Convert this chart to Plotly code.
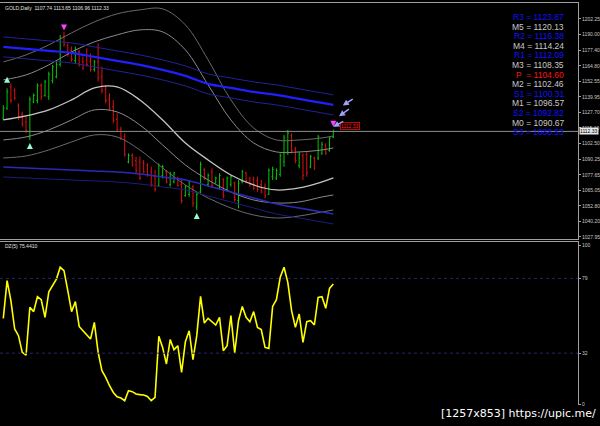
import plotly.graph_objects as go

# ---------------- data ----------------
bar_index = list(range(88))
opens = [1123, 1131, 1148, 1145, 1133, 1126, 1120, 1108, 1136, 1137,
         1149, 1141, 1140, 1153, 1156, 1166, 1188, 1181, 1177, 1169,
         1176, 1168, 1173, 1168, 1162, 1168, 1156, 1146, 1138, 1132,
         1122, 1114, 1108, 1088, 1093, 1089, 1088, 1087, 1085, 1080,
         1076, 1069, 1077, 1080, 1070, 1072, 1075, 1070, 1061, 1062,
         1068, 1052, 1064, 1082, 1070, 1080, 1071, 1067, 1074, 1066,
         1070, 1071, 1057, 1072, 1079, 1075, 1074, 1073, 1070, 1068,
         1062, 1076, 1075, 1078, 1088, 1096, 1109, 1098, 1085, 1093,
         1094, 1084, 1091, 1091, 1095, 1101, 1097, 1107.74]
highs = [1133.4, 1146.8, 1150.8, 1146.8, 1134.8, 1128.1, 1124.1, 1140.1, 1142.8, 1150.8,
         1150.8, 1153.5, 1160.1, 1165.4, 1168.1, 1189.4, 1192.1, 1182.8, 1180.1, 1180.1,
         1177.5, 1172.1, 1178.8, 1174.8, 1169.5, 1182.8, 1164.1, 1149.5, 1142.8, 1137.5,
         1126.8, 1116.1, 1110.8, 1094.8, 1094.8, 1092.1, 1092.1, 1089.5, 1086.8, 1084.1,
         1081.5, 1086.8, 1085.5, 1081.5, 1080.1, 1080.1, 1076.1, 1073.5, 1069.5, 1073.5,
         1069.5, 1064.1, 1088.1, 1082.8, 1078.8, 1082.8, 1076.1, 1078.8, 1074.8, 1076.1,
         1077.5, 1072.2, 1073.5, 1081.5, 1080.1, 1076.1, 1076.1, 1076.1, 1073.5, 1070.8,
         1082.8, 1084.1, 1082.8, 1094.8, 1109.5, 1113.5, 1110.8, 1100.1, 1096.1, 1094.8,
         1096.1, 1093.5, 1092.1, 1109.5, 1104.1, 1102.8, 1108.1, 1113.65]
lows = [1121.4, 1129.5, 1134.8, 1137.5, 1121.4, 1116.1, 1110.8, 1105.4, 1134.8, 1134.8,
        1137.5, 1140.1, 1137.5, 1150.8, 1154.8, 1164.1, 1180.1, 1172.1, 1168.1, 1166.8,
        1164.1, 1161.4, 1164.1, 1160.1, 1160.1, 1152.1, 1142.8, 1134.8, 1129.5, 1118.8,
        1112.1, 1105.4, 1092.1, 1086.8, 1084.1, 1078.8, 1073.5, 1078.8, 1076.1, 1068.1,
        1064.1, 1068.1, 1074.8, 1070.8, 1068.1, 1070.8, 1068.1, 1054.8, 1060.1, 1060.1,
        1052.1, 1049.5, 1062.8, 1073.5, 1068.1, 1066.8, 1070.8, 1065.5, 1058.8, 1065.5,
        1068.1, 1056.1, 1050.8, 1070.8, 1070.8, 1068.1, 1065.5, 1064.1, 1062.8, 1058.8,
        1061.5, 1073.5, 1073.5, 1076.1, 1084.1, 1093.5, 1094.8, 1086.8, 1082.8, 1073.5,
        1076.1, 1082.8, 1081.5, 1089.5, 1093.5, 1093.5, 1096.1, 1106.96]
closes = [1131, 1144, 1137, 1139, 1124, 1118, 1113, 1138, 1141, 1149,
          1140, 1152, 1158, 1164, 1166, 1187, 1182, 1174, 1170, 1178,
          1166, 1163, 1166, 1162, 1168, 1155, 1145, 1137, 1131, 1121,
          1114, 1107, 1094, 1093, 1086, 1081, 1075, 1080, 1078, 1070,
          1066, 1085, 1084, 1072, 1078, 1079, 1069, 1057, 1068, 1072,
          1055, 1062, 1086, 1075, 1077, 1069, 1075, 1077, 1061, 1075,
          1076, 1058, 1071, 1080, 1073, 1070, 1067, 1066, 1064, 1061,
          1081, 1082, 1081, 1093, 1107, 1111, 1097, 1089, 1094, 1077,
          1079, 1092, 1083, 1108, 1102, 1095, 1107, 1112.33]

osc = [53.9, 77.6, 65.0, 47.2, 43.0, 32.5, 30.8, 60.8, 58.1, 67.5,
       65.6, 54.5, 70.6, 74.8, 78.6, 86.0, 83.9, 71.3, 58.1, 64.4,
       48.8, 46.1, 43.4, 40.9, 51.4, 32.5, 21.0, 16.8, 11.5, 7.3,
       4.6, 3.8, 2.1, 8.4, 7.8, 6.3, 5.9, 5.7, 4.8, 2.1,
       4.2, 42.6, 35.6, 25.2, 40.5, 34.2, 36.7, 19.9, 39.2, 46.1,
       27.9, 43.0, 67.7, 50.9, 53.9, 51.8, 49.7, 54.5, 33.5, 36.7,
       55.6, 32.1, 52.4, 61.4, 54.5, 51.8, 58.1, 48.2, 46.8, 35.6,
       35.0, 61.4, 65.6, 79.7, 86.0, 76.5, 58.7, 48.2, 56.6, 38.8,
       51.8, 52.4, 49.7, 67.1, 67.5, 60.2, 72.7, 75.44]

# indicator lines, read at these bars
band_idx = [0, 6, 12, 18, 24, 30, 36, 42, 48, 54, 60, 66, 72, 78, 84, 87]
ma_thick = [1179.9, 1178.3, 1176.7, 1175.1, 1171.9, 1168.7, 1165.5, 1161.5,
            1156.7, 1150.3, 1147.1, 1143.9, 1141.5, 1138.3, 1135.1, 1133.5]
ma_upper = [1187.9, 1186.3, 1184.7, 1183.1, 1179.9, 1176.7, 1173.5, 1169.5,
            1164.7, 1158.3, 1155.1, 1151.9, 1149.5, 1146.3, 1143.1, 1141.5]
ma_lower = [1171.9, 1170.3, 1168.7, 1167.1, 1163.9, 1160.7, 1157.5, 1153.5,
            1148.7, 1142.3, 1139.1, 1135.9, 1133.5, 1130.3, 1127.1, 1125.5]
low_blue = [1083.9, 1083.1, 1082.3, 1081.5, 1080.7, 1079.9, 1078.3, 1075.9,
            1073.5, 1068.7, 1063.9, 1059.1, 1054.3, 1051.1, 1047.9, 1046.3]
low_blue2 = [1075.9, 1075.1, 1074.3, 1073.5, 1072.7, 1071.9, 1070.3, 1067.9,
             1065.5, 1060.7, 1055.9, 1051.1, 1046.3, 1043.1, 1039.9, 1038.3]
center_line = [1121.5, 1124.7, 1129.5, 1137.5, 1147.1, 1147.9, 1137.5, 1121.5,
               1103.1, 1089.5, 1077.5, 1069.5, 1065.5, 1067.1, 1071.9, 1075.1]
upper_in = [1153.5, 1157.5, 1165.5, 1175.9, 1183.9, 1189.5, 1193.5, 1191.9,
            1177.5, 1149.5, 1121.5, 1103.1, 1095.9, 1095.9, 1097.5, 1099.1]
upper_out = [1167.9, 1173.5, 1181.5, 1191.1, 1199.9, 1206.3, 1209.5, 1210.3,
             1197.5, 1169.5, 1137.5, 1115.1, 1105.5, 1105.5, 1107.1, 1108.7]
lower_in = [1105.5, 1107.9, 1113.5, 1121.5, 1129.5, 1127.9, 1117.5, 1101.5,
            1085.5, 1073.5, 1063.9, 1057.5, 1055.1, 1055.9, 1059.9, 1061.5]
lower_out = [1091.1, 1092.7, 1097.5, 1103.9, 1109.5, 1107.9, 1097.5, 1083.1,
             1069.5, 1059.1, 1051.1, 1045.5, 1043.1, 1044.7, 1047.9, 1049.5]

buy_idx = [1, 7, 51]
buy_price = [1156, 1103, 1047]
sell_idx = [16, 87]
sell_price = [1193, 1116]

price_ticks = [1202.25, 1190.00, 1177.40, 1164.80, 1152.55, 1139.95, 1127.70, 1115.10,
               1102.50, 1090.25, 1077.65, 1065.05, 1052.80, 1040.20, 1027.95]
osc_ticks = [100, 79, 32, 0]
osc_levels = [79, 32]

pivot_names = ["R3", "M5", "R2", "M4", "R1", "M3", "P ", "M2", "S1", "M1", "S2", "M0", "S3"]
pivot_values = [1123.87, 1120.13, 1116.38, 1114.24, 1112.09, 1108.35, 1104.60,
                1102.46, 1100.31, 1096.57, 1092.82, 1090.67, 1088.53]
pivot_colors = ["#1010ff", "#c8c8c8", "#1010ff", "#c8c8c8", "#1010ff", "#c8c8c8", "#ff1010",
                "#c8c8c8", "#1010ff", "#c8c8c8", "#1010ff", "#c8c8c8", "#1010ff"]

title_text = "GOLD,Daily  1107.74 1113.65 1106.96 1112.33"
osc_title = "DZ(5) 75.4410"
last_price = 1112.33

# ---------------- figure ----------------
W, H = 600, 426
fig = go.Figure()

line_specs = [
    (upper_out, "#6a6a6a", 1), (upper_in, "#8a8a8a", 1), (center_line, "#c4c4c4", 1.3),
    (lower_in, "#8a8a8a", 1), (lower_out, "#6a6a6a", 1),
    (ma_upper, "#22229a", 1), (ma_lower, "#22229a", 1), (ma_thick, "#2020ff", 2.2),
    (low_blue, "#2a2ab8", 1.6), (low_blue2, "#1c1c80", 1),
]
for vals, col, w in line_specs:
    fig.add_trace(go.Scatter(x=band_idx, y=vals, mode="lines", line=dict(color=col, width=w, shape="spline"),
                             xaxis="x", yaxis="y", hoverinfo="skip", showlegend=False))

fig.add_trace(go.Ohlc(x=bar_index, open=opens, high=highs, low=lows, close=closes,
                      increasing=dict(line=dict(color="#00c800", width=1)),
                      decreasing=dict(line=dict(color="#e01010", width=1)),
                      tickwidth=0.3, xaxis="x", yaxis="y", showlegend=False))

fig.add_trace(go.Scatter(x=buy_idx, y=buy_price, mode="markers",
                         marker=dict(symbol="arrow-up", size=6, color="#90ffd0"),
                         xaxis="x", yaxis="y", showlegend=False))
fig.add_trace(go.Scatter(x=sell_idx, y=sell_price, mode="markers",
                         marker=dict(symbol="arrow-down", size=6, color="#ff40ff"),
                         xaxis="x", yaxis="y", showlegend=False))

fig.add_trace(go.Scatter(x=bar_index, y=osc, mode="lines", line=dict(color="#ffff00", width=1.6),
                         xaxis="x2", yaxis="y2", showlegend=False))

x_range = [-0.87, 151.5]
fig.add_shape(type="line", xref="x", yref="y", x0=x_range[0], x1=x_range[1], y0=last_price, y1=last_price,
              line=dict(color="#8c8c8c", width=1))
for lv in osc_levels:
    fig.add_shape(type="line", xref="x2", yref="y2", x0=x_range[0], x1=x_range[1], y0=lv, y1=lv,
                  line=dict(color="#24246a", width=1, dash="dot"))

main_dom = [1 - 239 / H, 1 - 3 / H]
osc_dom = [1 - 405 / H, 1 - 242 / H]
tickfont = dict(family="Liberation Sans, Arial", size=5, color="#c8c8c8")

fig.update_layout(
    width=W, height=H, margin=dict(l=0, r=0, t=0, b=0, autoexpand=False),
    paper_bgcolor="#000000", plot_bgcolor="#000000", showlegend=False,
    xaxis=dict(domain=[0, 578 / W], range=x_range, showgrid=False, zeroline=False, showticklabels=False,
               showline=True, linecolor="#a0a0a0", linewidth=1, mirror=True, ticks="", automargin=False,
               rangeslider=dict(visible=False)),
    yaxis=dict(domain=main_dom, range=[1026.3, 1215.0], side="right", showgrid=False, zeroline=False,
               tickvals=price_ticks, ticktext=[f"{v:.2f}" for v in price_ticks], tickfont=tickfont,
               ticks="outside", ticklen=2, tickcolor="#a0a0a0", showline=True, linecolor="#a0a0a0",
               automargin=False),
    xaxis2=dict(domain=[0, 578 / W], range=x_range, anchor="y2", showgrid=False, zeroline=False,
                showticklabels=False, showline=True, linecolor="#a0a0a0", mirror=False, side="top", ticks="",
                automargin=False),
    yaxis2=dict(domain=osc_dom, range=[-0.6, 101.9], anchor="x2", side="right", showgrid=False, zeroline=False,
                tickvals=osc_ticks, ticktext=[str(v) for v in osc_ticks], tickfont=tickfont,
                ticks="outside", ticklen=2, tickcolor="#a0a0a0", showline=True, linecolor="#a0a0a0",
                automargin=False),
)

ann = []
ann.append(dict(xref="paper", yref="paper", x=3 / W, y=1 - 8 / H, text=title_text, showarrow=False,
                xanchor="left", yanchor="middle", font=dict(family="Liberation Sans, Arial", size=5, color="#e0e0e0")))
ann.append(dict(xref="paper", yref="paper", x=3 / W, y=1 - 246 / H, text=osc_title, showarrow=False,
                xanchor="left", yanchor="middle", font=dict(family="Liberation Sans, Arial", size=5, color="#e0e0e0")))
for k, (n, v, c) in enumerate(zip(pivot_names, pivot_values, pivot_colors)):
    ann.append(dict(xref="paper", yref="paper", x=566 / W, y=1 - (17 + 9.6 * k) / H,
                    text=f"{n} = {v:.2f}", showarrow=False, xanchor="right", yanchor="middle",
                    font=dict(family="Liberation Sans, Arial", size=8.5, color=c)))
ann.append(dict(xref="paper", yref="y", x=599 / W, y=last_price, text=f"{last_price:.2f}", showarrow=False,
                xanchor="right", yanchor="middle", bgcolor="#e8e8e8", borderpad=0,
                font=dict(family="Liberation Sans, Arial", size=5, color="#000000")))
ann.append(dict(xref="x", yref="y", x=91.5, y=1116.5, text=f"{last_price:.2f}", showarrow=False,
                xanchor="center", yanchor="middle", bordercolor="#d00000", borderwidth=1, borderpad=0,
                font=dict(family="Liberation Sans, Arial", size=5, color="#ff2020")))
for (xa, ya, xt, yt) in [(89.5, 1133, 92.5, 1139), (88.5, 1124.5, 91.5, 1131), (87.0, 1116, 90.0, 1121)]:
    ann.append(dict(xref="x", yref="y", x=xa, y=ya, ax=xt, ay=yt, axref="x", ayref="y", text="",
                    showarrow=True, arrowhead=2, arrowsize=0.8, arrowwidth=1.5, arrowcolor="#a0a0ff"))
ann.append(dict(xref="paper", yref="paper", x=598 / W, y=1 - 413 / H, text="[1257x853] https://upic.me/",
                showarrow=False, xanchor="right", yanchor="middle",
                font=dict(family="DejaVu Sans, Arial", size=11, color="#ffffff")))
fig.update_layout(annotations=ann)

fig.write_html("out.html", config={"displayModeBar": False},
               post_script="document.body.style.margin='0';document.body.style.background='#000';")
